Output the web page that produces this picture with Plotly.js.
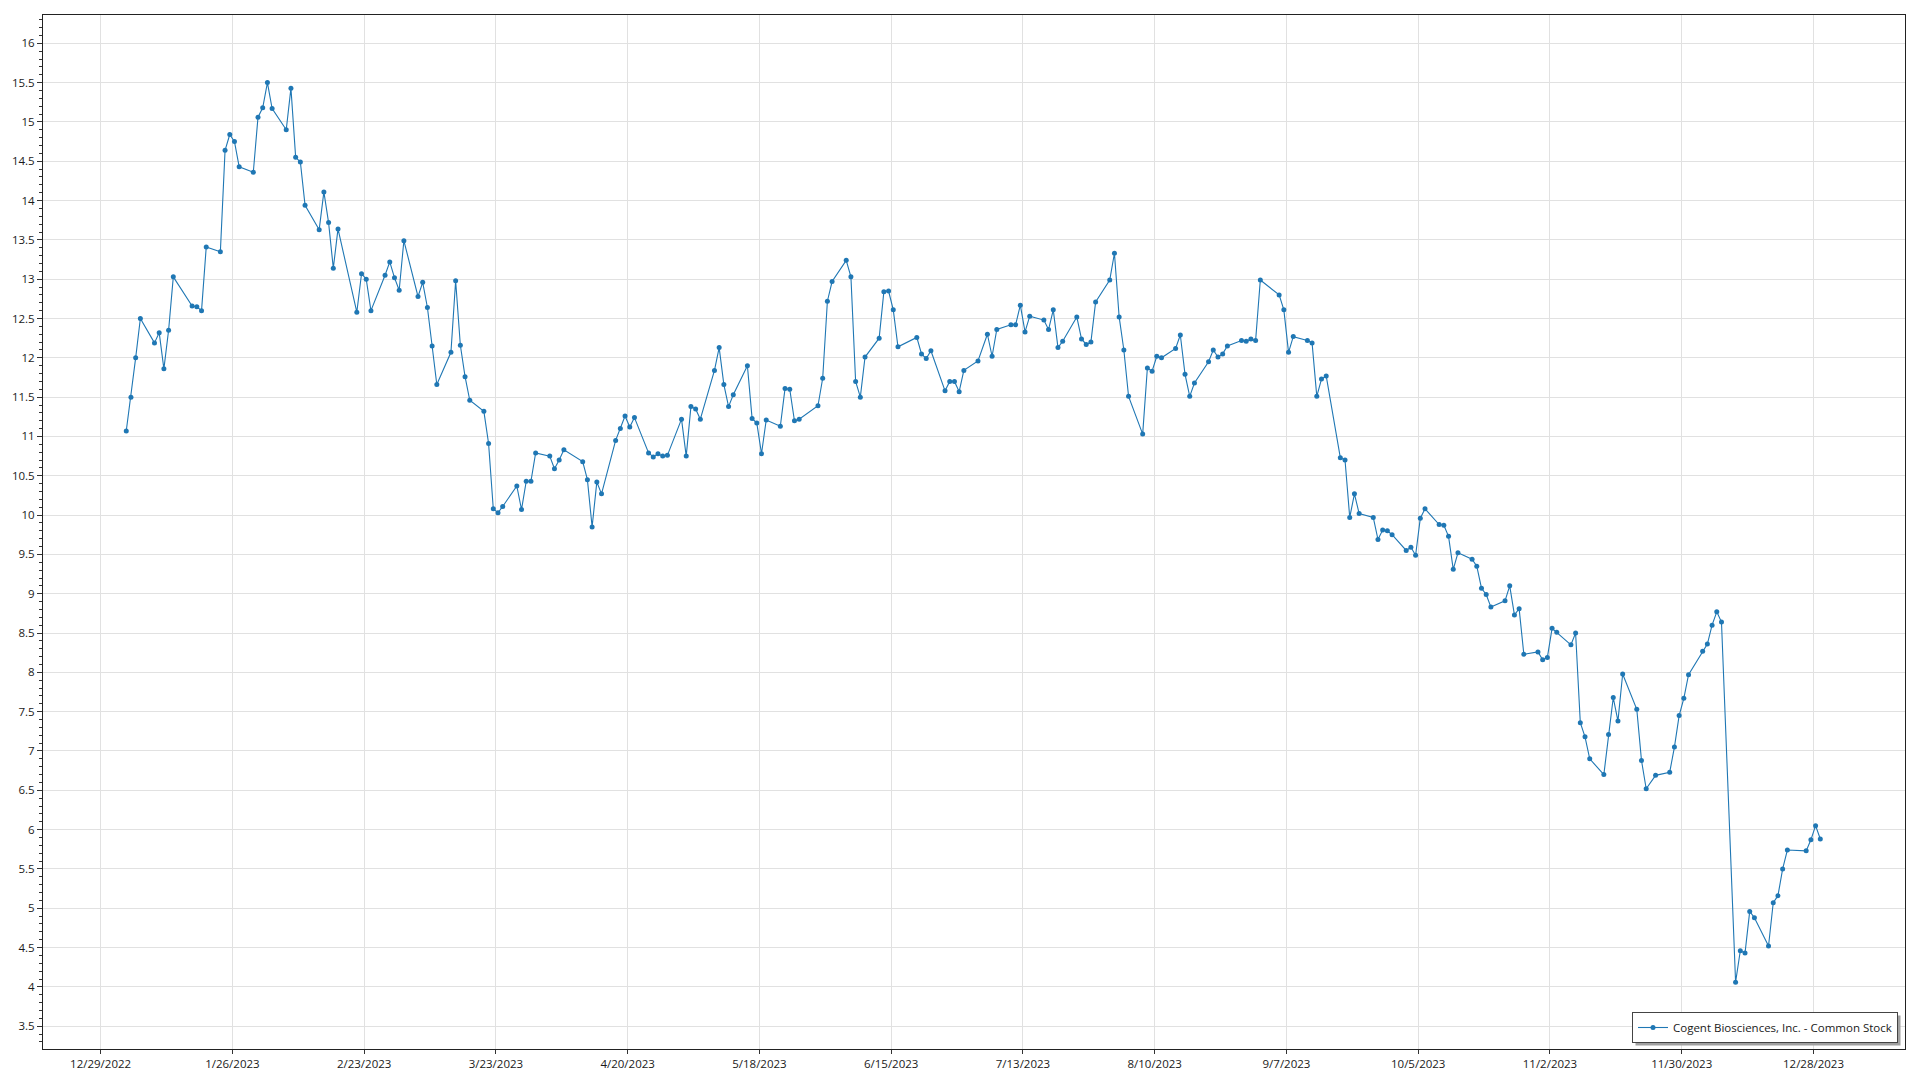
<!DOCTYPE html>
<html>
<head>
<meta charset="utf-8">
<script src="https://cdn.plot.ly/plotly-3.0.1.min.js"></script>
<style>
  html, body { margin: 0; padding: 0; background: #ffffff; }
  #chart { width: 1920px; height: 1080px; }
</style>
</head>
<body>
<div id="chart"></div>
<script>
const seriesName = 'Cogent Biosciences, Inc. - Common Stock';

const dates = [
  '2023-01-03','2023-01-04','2023-01-05','2023-01-06','2023-01-09','2023-01-10','2023-01-11','2023-01-12','2023-01-13','2023-01-17',
  '2023-01-18','2023-01-19','2023-01-20','2023-01-23','2023-01-24','2023-01-25','2023-01-26','2023-01-27','2023-01-30','2023-01-31',
  '2023-02-01','2023-02-02','2023-02-03','2023-02-06','2023-02-07','2023-02-08','2023-02-09','2023-02-10','2023-02-13','2023-02-14',
  '2023-02-15','2023-02-16','2023-02-17','2023-02-21','2023-02-22','2023-02-23','2023-02-24','2023-02-27','2023-02-28',
  '2023-03-01','2023-03-02','2023-03-03','2023-03-06','2023-03-07','2023-03-08','2023-03-09','2023-03-10','2023-03-13','2023-03-14',
  '2023-03-15','2023-03-16','2023-03-17','2023-03-20','2023-03-21','2023-03-22','2023-03-23','2023-03-24','2023-03-27','2023-03-28',
  '2023-03-29','2023-03-30','2023-03-31',
  '2023-04-03','2023-04-04','2023-04-05','2023-04-06','2023-04-10','2023-04-11','2023-04-12','2023-04-13','2023-04-14','2023-04-17',
  '2023-04-18','2023-04-19','2023-04-20','2023-04-21','2023-04-24','2023-04-25','2023-04-26','2023-04-27','2023-04-28',
  '2023-05-01','2023-05-02','2023-05-03','2023-05-04','2023-05-05','2023-05-08','2023-05-09','2023-05-10','2023-05-11','2023-05-12',
  '2023-05-15','2023-05-16','2023-05-17','2023-05-18','2023-05-19','2023-05-22','2023-05-23','2023-05-24','2023-05-25','2023-05-26',
  '2023-05-30','2023-05-31',
  '2023-06-01','2023-06-02','2023-06-05','2023-06-06','2023-06-07','2023-06-08','2023-06-09','2023-06-12','2023-06-13','2023-06-14',
  '2023-06-15','2023-06-16','2023-06-20','2023-06-21','2023-06-22','2023-06-23','2023-06-26','2023-06-27','2023-06-28','2023-06-29',
  '2023-06-30',
  '2023-07-03','2023-07-05','2023-07-06','2023-07-07','2023-07-10','2023-07-11','2023-07-12','2023-07-13','2023-07-14','2023-07-17',
  '2023-07-18','2023-07-19','2023-07-20','2023-07-21','2023-07-24','2023-07-25','2023-07-26','2023-07-27','2023-07-28','2023-07-31',
  '2023-08-01','2023-08-02','2023-08-03','2023-08-04','2023-08-07','2023-08-08','2023-08-09','2023-08-10','2023-08-11','2023-08-14',
  '2023-08-15','2023-08-16','2023-08-17','2023-08-18','2023-08-21','2023-08-22','2023-08-23','2023-08-24','2023-08-25','2023-08-28',
  '2023-08-29','2023-08-30','2023-08-31',
  '2023-09-01','2023-09-05','2023-09-06','2023-09-07','2023-09-08','2023-09-11','2023-09-12','2023-09-13','2023-09-14','2023-09-15',
  '2023-09-18','2023-09-19','2023-09-20','2023-09-21','2023-09-22','2023-09-25','2023-09-26','2023-09-27','2023-09-28','2023-09-29',
  '2023-10-02','2023-10-03','2023-10-04','2023-10-05','2023-10-06','2023-10-09','2023-10-10','2023-10-11','2023-10-12','2023-10-13',
  '2023-10-16','2023-10-17','2023-10-18','2023-10-19','2023-10-20','2023-10-23','2023-10-24','2023-10-25','2023-10-26','2023-10-27',
  '2023-10-30','2023-10-31',
  '2023-11-01','2023-11-02','2023-11-03','2023-11-06','2023-11-07','2023-11-08','2023-11-09','2023-11-10','2023-11-13','2023-11-14',
  '2023-11-15','2023-11-16','2023-11-17','2023-11-20','2023-11-21','2023-11-22','2023-11-24','2023-11-27','2023-11-28','2023-11-29',
  '2023-11-30',
  '2023-12-01','2023-12-04','2023-12-05','2023-12-06','2023-12-07','2023-12-08','2023-12-11','2023-12-12','2023-12-13','2023-12-14',
  '2023-12-15','2023-12-18','2023-12-19','2023-12-20','2023-12-21','2023-12-22','2023-12-26','2023-12-27','2023-12-28','2023-12-29'
];

const closePrices = [
  11.07, 11.50, 12.00, 12.50, 12.19, 12.32, 11.86, 12.35, 13.03, 12.66,
  12.65, 12.60, 13.41, 13.35, 14.64, 14.84, 14.75, 14.43, 14.36, 15.06,
  15.18, 15.50, 15.17, 14.90, 15.43, 14.55, 14.49, 13.94, 13.63, 14.11,
  13.72, 13.14, 13.64, 12.58, 13.07, 13.00, 12.60, 13.05, 13.22,
  13.02, 12.86, 13.49, 12.78, 12.96, 12.64, 12.15, 11.66, 12.07, 12.98,
  12.16, 11.76, 11.46, 11.32, 10.91, 10.08, 10.03, 10.11, 10.37, 10.07,
  10.43, 10.43, 10.79,
  10.75, 10.59, 10.70, 10.83, 10.68, 10.45, 9.85, 10.42, 10.27, 10.95,
  11.10, 11.26, 11.12, 11.24, 10.79, 10.74, 10.78, 10.75, 10.76,
  11.22, 10.75, 11.38, 11.35, 11.22, 11.84, 12.13, 11.66, 11.38, 11.53,
  11.90, 11.23, 11.17, 10.78, 11.21, 11.13, 11.61, 11.60, 11.20, 11.22,
  11.39, 11.74,
  12.72, 12.97, 13.24, 13.03, 11.70, 11.50, 12.01, 12.25, 12.84, 12.85,
  12.61, 12.14, 12.26, 12.05, 11.99, 12.09, 11.58, 11.70, 11.70, 11.57,
  11.84,
  11.96, 12.30, 12.02, 12.36, 12.42, 12.42, 12.67, 12.33, 12.53, 12.48,
  12.36, 12.61, 12.13, 12.21, 12.52, 12.24, 12.17, 12.20, 12.71, 12.99,
  13.33, 12.52, 12.10, 11.51, 11.03, 11.87, 11.83, 12.02, 12.00, 12.12,
  12.29, 11.79, 11.51, 11.68, 11.95, 12.10, 12.01, 12.05, 12.15, 12.22,
  12.21, 12.24, 12.22,
  12.99, 12.80, 12.61, 12.07, 12.27, 12.22, 12.19, 11.51, 11.73, 11.77,
  10.73, 10.70, 9.97, 10.27, 10.02, 9.97, 9.69, 9.81, 9.80, 9.75,
  9.55, 9.59, 9.49, 9.96, 10.08, 9.88, 9.87, 9.73, 9.31, 9.52,
  9.44, 9.35, 9.07, 8.99, 8.83, 8.91, 9.10, 8.73, 8.81, 8.23,
  8.26, 8.16,
  8.19, 8.56, 8.51, 8.35, 8.50, 7.36, 7.18, 6.90, 6.70, 7.21,
  7.68, 7.38, 7.98, 7.53, 6.88, 6.52, 6.69, 6.73, 7.05, 7.45,
  7.67,
  7.97, 8.27, 8.36, 8.60, 8.77, 8.64, 4.06, 4.46, 4.43, 4.96,
  4.88, 4.52, 5.07, 5.16, 5.50, 5.74, 5.73, 5.87, 6.05, 5.88
];

const tickDates = ['2022-12-29','2023-01-26','2023-02-23','2023-03-23','2023-04-20','2023-05-18','2023-06-15',
                   '2023-07-13','2023-08-10','2023-09-07','2023-10-05','2023-11-02','2023-11-30','2023-12-28'];
const tickLabels = ['12/29/2022','1/26/2023','2/23/2023','3/23/2023','4/20/2023','5/18/2023','6/15/2023',
                    '7/13/2023','8/10/2023','9/7/2023','10/5/2023','11/2/2023','11/30/2023','12/28/2023'];

// the source chart places its date ticks slightly before midnight of the labelled day
const DAY = 86400000;
const tickShift = 0.446 * DAY;
const tickVals = tickDates.map(d => Date.parse(d + 'T00:00:00Z') - tickShift);

const fontFamily = '"Open Sans", "Noto Sans", Lato, sans-serif';
const lineColor = '#1f77b4';

const trace = {
  x: dates,
  y: closePrices,
  type: 'scatter',
  mode: 'lines+markers',
  name: seriesName,
  line: { color: lineColor, width: 1.1 },
  marker: { color: lineColor, size: 5 },
  showlegend: true
};

const layout = {
  width: 1920,
  height: 1080,
  paper_bgcolor: '#ffffff',
  plot_bgcolor: '#ffffff',
  margin: { l: 43, r: 15, t: 15, b: 31, pad: 0 },
  font: { family: fontFamily, size: 11.5, color: '#1a1a1a' },
  showlegend: true,
  xaxis: {
    type: 'date',
    range: [Date.parse('2022-12-16T07:26:00Z'), Date.parse('2024-01-16T00:00:00Z')],
    tickmode: 'array',
    tickvals: tickVals,
    ticktext: tickLabels,
    ticks: 'outside',
    ticklen: 4,
    tickcolor: '#333333',
    showgrid: true,
    gridcolor: '#e1e1e1',
    gridwidth: 1,
    showline: true,
    linecolor: '#222222',
    linewidth: 1,
    mirror: true,
    zeroline: false,
    tickfont: { family: fontFamily, size: 11.5, color: '#1a1a1a' }
  },
  yaxis: {
    range: [3.21, 16.36],
    tick0: 0,
    dtick: 0.5,
    ticks: 'outside',
    ticklen: 5,
    tickcolor: '#333333',
    minor: { ticks: 'outside', ticklen: 3, dtick: 0.1, tickcolor: '#333333', showgrid: false },
    showgrid: true,
    gridcolor: '#e1e1e1',
    gridwidth: 1,
    showline: true,
    linecolor: '#222222',
    linewidth: 1,
    mirror: true,
    zeroline: false,
    tickfont: { family: fontFamily, size: 11.5, color: '#1a1a1a' }
  },
  legend: {
    x: 1 - 7 / 1862,
    y: 6 / 1034,
    xanchor: 'right',
    yanchor: 'bottom',
    bgcolor: '#ffffff',
    bordercolor: '#444444',
    borderwidth: 1,
    font: { family: fontFamily, size: 11.5, color: '#1a1a1a' },
    itemwidth: 30
  }
};

Plotly.newPlot('chart', [trace], layout, { displayModeBar: false, staticPlot: true }).then(gd => {
  // drop shadow behind the legend box, like the source chart
  const bg = gd.querySelector('.legend .bg');
  if (!bg) return;
  const r = bg.getBoundingClientRect();
  const c = gd.getBoundingClientRect();
  const fl = gd._fullLayout;
  const ox = fl._size.l, oy = fl._size.t, w = fl._size.w, h = fl._size.h;
  const toX = px => (px - c.left - ox) / w;
  const toY = py => 1 - (py - c.top - oy) / h;
  const off = 3;
  Plotly.relayout(gd, {
    shapes: [{
      type: 'rect', xref: 'paper', yref: 'paper', layer: 'above',
      x0: toX(r.left + off), x1: toX(r.right + off),
      y0: toY(r.bottom + off), y1: toY(r.top + off),
      fillcolor: '#a0a0a0', line: { width: 0 }
    }]
  });
});
</script>
</body>
</html>
